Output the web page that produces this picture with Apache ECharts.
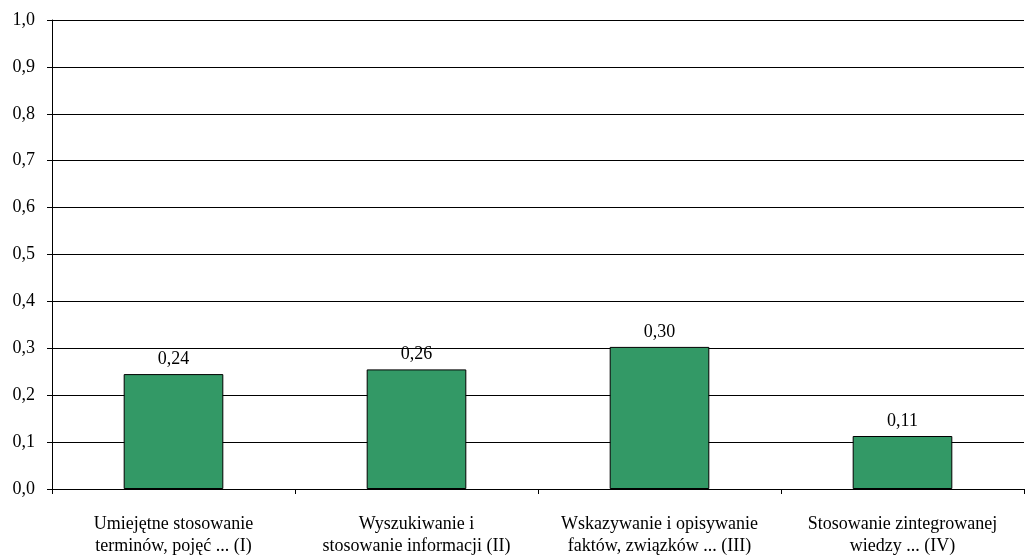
<!DOCTYPE html>
<html>
<head>
<meta charset="utf-8">
<script src="https://cdn.jsdelivr.net/npm/echarts@6/dist/echarts.min.js"></script>
<style>
  html, body { margin: 0; padding: 0; background: #fff; }
  #chart { width: 1025px; height: 557px; }
</style>
</head>
<body>
<div id="chart"></div>
<script>
const categories = [
  'Umiejętne stosowanie\nterminów, pojęć ... (I)',
  'Wyszukiwanie i\nstosowanie informacji (II)',
  'Wskazywanie i opisywanie\nfaktów, związków ... (III)',
  'Stosowanie zintegrowanej\nwiedzy ... (IV)'
]
// bar heights, labels as printed above the bars
const values = [0.245, 0.255, 0.303, 0.113]
const valueLabels = ['0,24', '0,26', '0,30', '0,11']

const font = '"Liberation Serif", "Times New Roman", serif'

const chart = echarts.init(document.getElementById('chart'))
chart.setOption({
  animation: false,
  textStyle: { fontFamily: font },
  grid: { left: 52, right: 1, top: 20, bottom: 68 },
  xAxis: {
    type: 'category',
    data: categories,
    axisLine: { lineStyle: { color: '#000', width: 1 } },
    axisTick: { show: true, length: 5, lineStyle: { color: '#000' } },
    axisLabel: {
      color: '#000',
      fontSize: 18,
      fontFamily: font,
      lineHeight: 22,
      margin: 24,
      interval: 0
    }
  },
  yAxis: {
    type: 'value',
    min: 0,
    max: 1,
    interval: 0.1,
    axisLine: { show: true, lineStyle: { color: '#000', width: 1 } },
    axisTick: { show: true, length: 5, lineStyle: { color: '#000' } },
    splitLine: { lineStyle: { color: '#000', width: 1 } },
    axisLabel: {
      color: '#000',
      fontSize: 18,
      fontFamily: font,
      margin: 17,
      formatter: v => v.toFixed(1).replace('.', ',')
    }
  },
  series: [{
    type: 'bar',
    data: values,
    barWidth: '41%',
    itemStyle: { color: '#339966', borderColor: '#000', borderWidth: 1 },
    label: {
      show: true,
      position: 'top',
      distance: 6,
      color: '#000',
      fontSize: 18,
      fontFamily: font,
      formatter: p => valueLabels[p.dataIndex]
    }
  }]
})
</script>
</body>
</html>
